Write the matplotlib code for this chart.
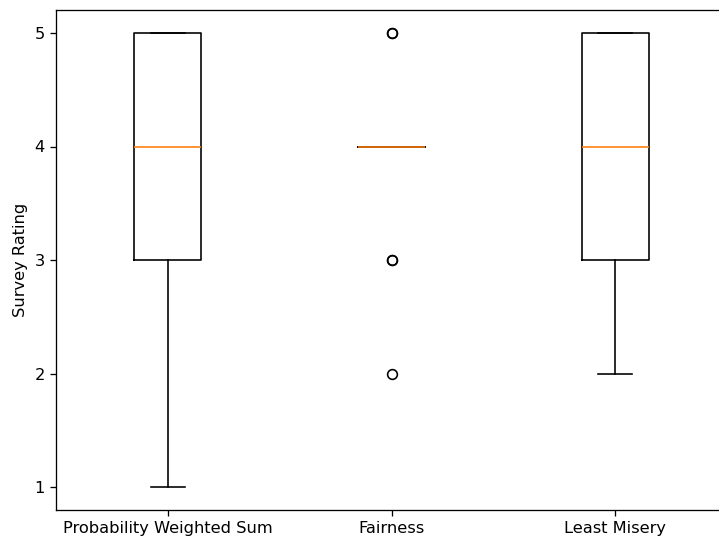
import numpy as np
import matplotlib
matplotlib.use("Agg")
import matplotlib.pyplot as plt

# survey ratings per method
labels = ["Probability Weighted Sum", "Fairness", "Least Misery"]
weighted_sum = [1, 2, 3, 3, 3, 4, 4, 4, 5, 5, 5, 5]
fairness = [2, 3, 3, 4, 4, 4, 4, 4, 4, 4, 4, 4, 5, 5]
least_misery = [2, 3, 3, 3, 4, 4, 4, 4, 5, 5, 5, 5]
y_ticks = [1, 2, 3, 4, 5]

DPI = 117
fig, ax = plt.subplots(figsize=(719 / DPI, 542 / DPI), dpi=DPI)
ax.boxplot([weighted_sum, fairness, least_misery])
ax.set_xticks([1, 2, 3])
ax.set_xticklabels(labels)
ax.set_yticks(y_ticks)
ax.set_ylabel("Survey Rating")

# the right spine falls just outside the saved image in the original
ax.spines["right"].set_visible(False)
fig.subplots_adjust(left=56 / 719, right=727 / 719, top=1 - 10.3 / 542, bottom=1 - 509.7 / 542)
fig.savefig("out.png", dpi=DPI)
